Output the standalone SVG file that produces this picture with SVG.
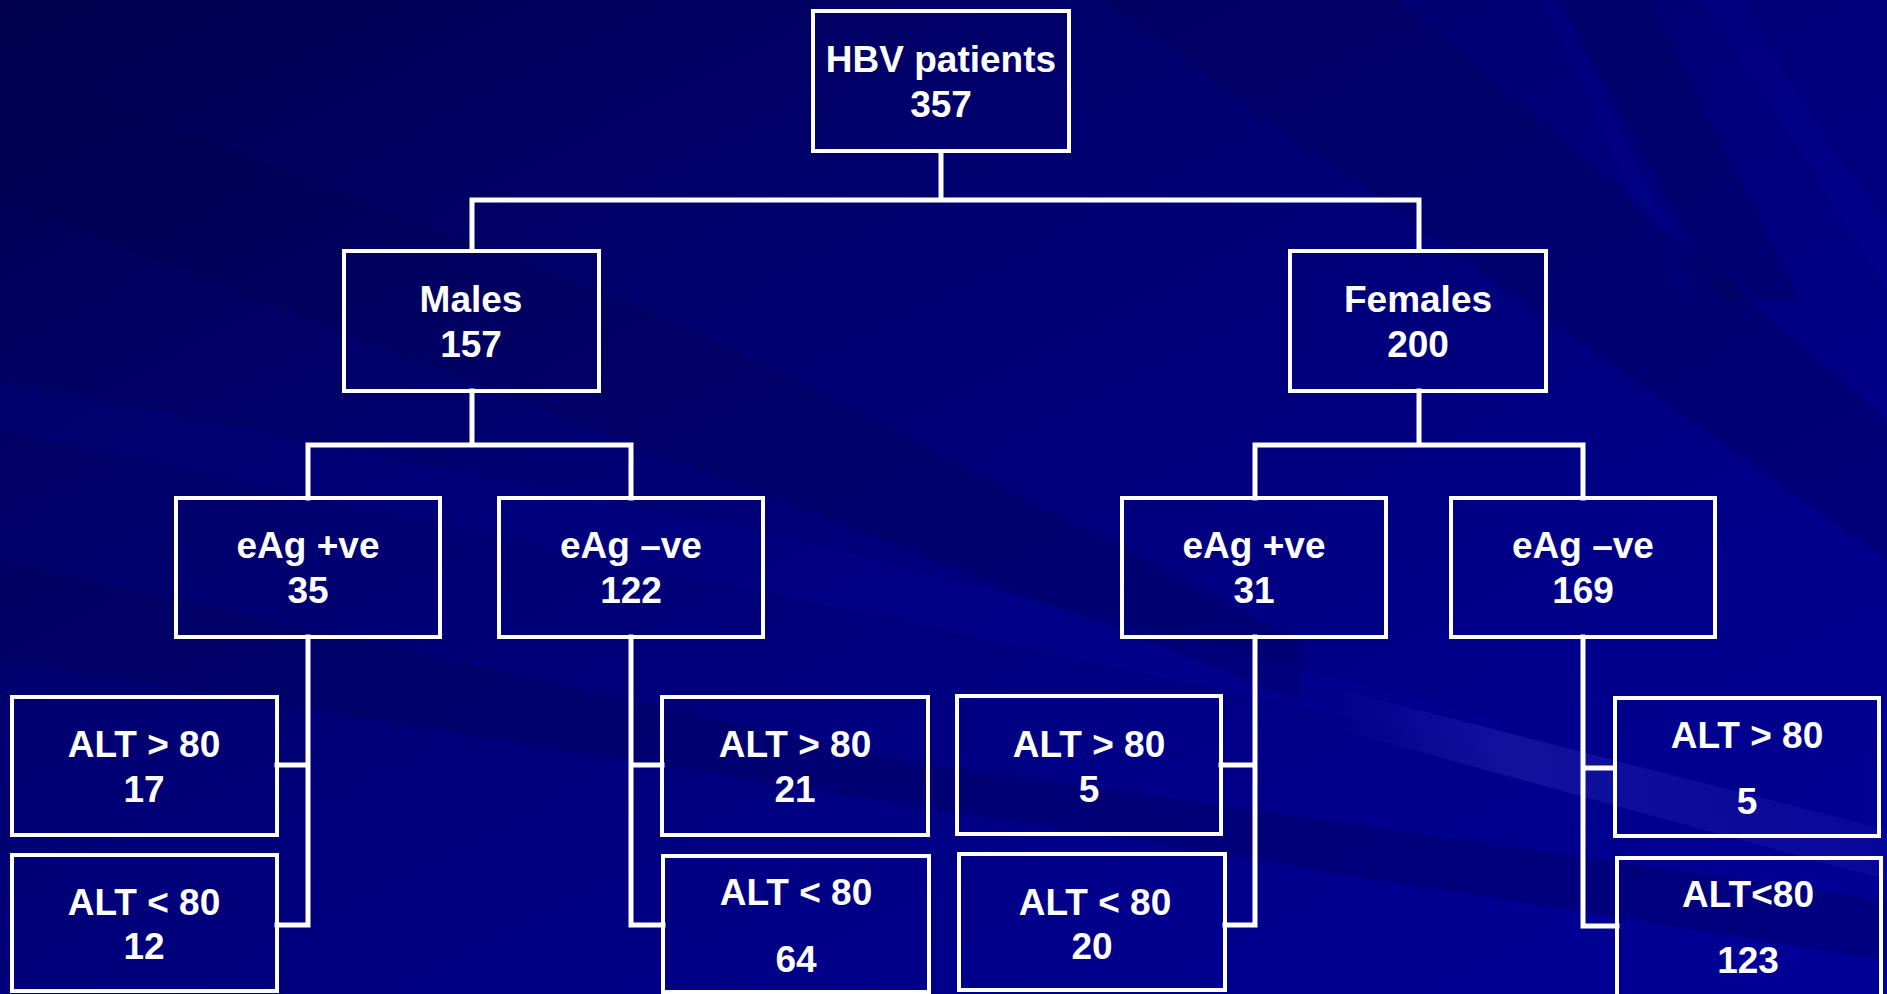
<svg xmlns="http://www.w3.org/2000/svg" width="1887" height="994" viewBox="0 0 1887 994">
<defs>
<linearGradient id="bg" x1="0" y1="0" x2="1" y2="1">
<stop offset="0" stop-color="#00004f"/>
<stop offset="0.35" stop-color="#000070"/>
<stop offset="0.7" stop-color="#000088"/>
<stop offset="1" stop-color="#000098"/>
</linearGradient>
<linearGradient id="hl" x1="0" y1="0" x2="1" y2="0">
<stop offset="0" stop-color="#3a3ac8" stop-opacity="0"/>
<stop offset="0.3" stop-color="#3a3ac8" stop-opacity="0.3"/>
<stop offset="1" stop-color="#3a3ac8" stop-opacity="0.12"/>
</linearGradient>
<style>
.box{fill:none;stroke:#ffffff;stroke-width:4}
.con{fill:none;stroke:#ffffff;stroke-width:5;stroke-linecap:square}
text{font-family:"Liberation Sans",Arial,sans-serif;font-weight:bold;font-size:37px;fill:#ffffff;text-anchor:middle}
.dk{fill:#000050;opacity:0.3}
.lt{fill:#0a0ab0;opacity:0.14}
</style>
</defs>
<rect width="1887" height="994" fill="url(#bg)"/>
<g id="background-streaks">
<polygon class="dk" points="0,60 700,330 1300,640 1300,700 0,200"/>
<polygon class="dk" points="0,560 900,760 1887,900 1887,960 0,660"/>
<polygon class="lt" points="0,380 800,540 1500,720 1500,750 0,430"/>
<polygon class="dk" points="1560,0 1650,0 1800,300 1720,300"/>
<polygon class="lt" points="1700,0 1740,0 1887,230 1887,290"/>
<polygon class="lt" points="1540,0 1560,0 1700,300 1680,300"/>
<polygon class="dk" points="1100,0 1400,0 1887,420 1887,560"/>
<polygon points="1340,690 1887,830 1887,880 1340,730" fill="url(#hl)"/>
</g>
<g id="connectors">
<path class="con" d="M941,152 V200 M472,200 H1419 M472,200 V250 M1419,200 V250"/>
<path class="con" d="M472,391 V445 M308,445 H631 M308,445 V498 M631,445 V498"/>
<path class="con" d="M1419,391 V445 M1255,445 H1583 M1255,445 V498 M1583,445 V498"/>
<path class="con" d="M308,637 V925 M277,765 H308 M277,925 H308"/>
<path class="con" d="M631,637 V925 M631,765 H662 M631,925 H663"/>
<path class="con" d="M1255,637 V925 M1221,765 H1255 M1225,925 H1255"/>
<path class="con" d="M1583,637 V926 M1583,768 H1614 M1583,926 H1617"/>
</g>
<g id="root"><rect class="box" x="813" y="11" width="256" height="140"/><text x="941" y="72">HBV patients</text><text x="941" y="117">357</text></g>
<g id="males"><rect class="box" x="344" y="251" width="255" height="140"/><text x="471" y="312">Males</text><text x="471" y="357">157</text></g>
<g id="females"><rect class="box" x="1290" y="251" width="256" height="140"/><text x="1418" y="312">Females</text><text x="1418" y="357">200</text></g>
<g id="m-eag-pos"><rect class="box" x="176" y="498" width="264" height="139"/><text x="308" y="558">eAg +ve</text><text x="308" y="603">35</text></g>
<g id="m-eag-neg"><rect class="box" x="499" y="498" width="264" height="139"/><text x="631" y="558">eAg –ve</text><text x="631" y="603">122</text></g>
<g id="f-eag-pos"><rect class="box" x="1122" y="498" width="264" height="139"/><text x="1254" y="558">eAg +ve</text><text x="1254" y="603">31</text></g>
<g id="f-eag-neg"><rect class="box" x="1451" y="498" width="264" height="139"/><text x="1583" y="558">eAg –ve</text><text x="1583" y="603">169</text></g>
<g id="m-pos-alt-hi"><rect class="box" x="12" y="697" width="265" height="138"/><text x="144" y="757">ALT &gt; 80</text><text x="144" y="802">17</text></g>
<g id="m-pos-alt-lo"><rect class="box" x="12" y="855" width="265" height="136"/><text x="144" y="915">ALT &lt; 80</text><text x="144" y="959">12</text></g>
<g id="m-neg-alt-hi"><rect class="box" x="662" y="697" width="266" height="138"/><text x="795" y="757">ALT &gt; 80</text><text x="795" y="802">21</text></g>
<g id="m-neg-alt-lo"><rect class="box" x="663" y="856" width="266" height="136"/><text x="796" y="905">ALT &lt; 80</text><text x="796" y="972">64</text></g>
<g id="f-pos-alt-hi"><rect class="box" x="957" y="696" width="264" height="138"/><text x="1089" y="757">ALT &gt; 80</text><text x="1089" y="802">5</text></g>
<g id="f-pos-alt-lo"><rect class="box" x="959" y="854" width="266" height="136"/><text x="1095" y="915">ALT &lt; 80</text><text x="1092" y="959">20</text></g>
<g id="f-neg-alt-hi"><rect class="box" x="1615" y="698" width="264" height="138"/><text x="1747" y="748">ALT &gt; 80</text><text x="1747" y="814">5</text></g>
<g id="f-neg-alt-lo"><rect class="box" x="1617" y="858" width="264" height="145"/><text x="1748" y="907">ALT&lt;80</text><text x="1748" y="973">123</text></g>
</svg>
